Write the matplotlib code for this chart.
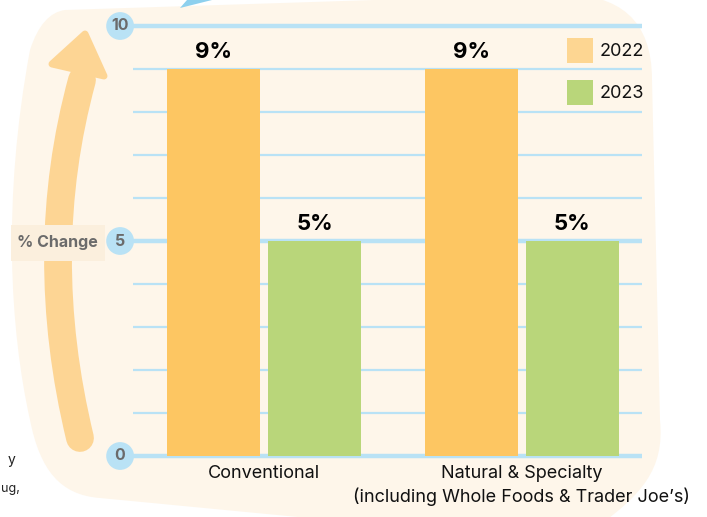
import matplotlib
matplotlib.use("Agg")
import matplotlib.pyplot as plt
import numpy as np
from matplotlib.path import Path
from matplotlib.patches import PathPatch, Polygon, Rectangle

plt.rcParams['font.family'] = ['Inter', 'DejaVu Sans']

# data
categories = ["Conventional", "Natural & Specialty\n(including Whole Foods & Trader Joe\u2019s)"]
years = ["2022", "2023"]
vals_2022 = [9, 9]
vals_2023 = [5, 5]
major_ticks = [0, 5, 10]
minor_ticks = [1, 2, 3, 4, 6, 7, 8, 9, 10]

W, H = 707, 517
bg = "#FEF6EA"
blue = "#B9E2F5"
c22 = "#FDC662"
c23 = "#B9D67A"
c22_leg = "#FDD692"
arrow_c = "#FDD594"
gray = "#6B6B6B"

fig = plt.figure(figsize=(W / 100, H / 100), dpi=100)
fig.patch.set_facecolor("white")


def px(x, y):
    return (x / W, 1 - y / H)


# cream background blob
M, L, C = Path.MOVETO, Path.LINETO, Path.CURVE4
pts = [
    ((65, 10), M),
    ((560, -6), L),
    ((620, -6), C), ((652, 20), C), ((652, 80), C),
    ((660, 420), L),
    ((665, 470), C), ((640, 495), C), ((600, 525), C),
    ((350, 522), L),
    ((100, 498), L),
    ((60, 495), C), ((40, 470), C), ((30, 420), C),
    ((10, 330), C), ((2, 200), C), ((30, 50), C),
    ((38, 25), C), ((50, 12), C), ((65, 10), C),
]
verts = [px(*p) for p, _ in pts]
codes = [c for _, c in pts]
fig.patches.append(PathPatch(Path(verts, codes), facecolor=bg, edgecolor="none",
                             transform=fig.transFigure, zorder=-3))

# blue fragment at top
fig.patches.append(Polygon([px(180, 8), px(187, 0), px(212, 0)], closed=True,
                           facecolor="#8DD0EE", edgecolor="none",
                           transform=fig.transFigure, zorder=-2))

# big curved arrow
shaft = Path([px(80, 438), px(35, 252), px(82, 80)], [Path.MOVETO, Path.CURVE3, Path.CURVE3])
fig.patches.append(PathPatch(shaft, facecolor="none", edgecolor=arrow_c, lw=20,
                             capstyle="round", transform=fig.transFigure, zorder=-2))
fig.patches.append(Polygon([px(85, 34), px(52, 64), px(104, 76)], closed=True,
                           facecolor=arrow_c, edgecolor=arrow_c, lw=5, joinstyle="round",
                           transform=fig.transFigure, zorder=-2))

# "% Change" label
fig.patches.append(Rectangle(px(11, 261), 94 / W, 36 / H, facecolor="#FBEFDD",
                             edgecolor="none", transform=fig.transFigure, zorder=-1))
fig.text(*px(57, 243), "% Change", ha="center", va="center", fontsize=11.5,
         fontweight="bold", color=gray, zorder=3)

# cut-off text fragments on the left
fig.text(*px(8, 460), "y", ha="left", va="center", fontsize=10, color="#222222")
fig.text(*px(1, 489), "ug,", ha="left", va="center", fontsize=9, color="#222222")

# axes
ax = fig.add_axes([133 / W, (H - 456) / H, 509 / W, 430 / H])
ax.set_zorder(2)
ax.set_facecolor("none")
x = np.arange(len(categories))
ax.set_xlim(-0.508, 1.466)
ax.set_ylim(0, 10)

for t in minor_ticks:
    ax.axhline(t, color=blue, lw=1.6, zorder=1)
for t in major_ticks:
    ax.plot([-0.56, 1.466], [t, t], color=blue, lw=3.2, zorder=1,
            clip_on=False, solid_capstyle="butt")
ax.scatter([-0.558] * len(major_ticks), major_ticks, s=400, color=blue,
           zorder=3, clip_on=False, edgecolors="none")
for t in major_ticks:
    ax.text(-0.558, t, str(t), ha="center", va="center", fontsize=11.5,
            fontweight="bold", color=gray, zorder=4)

off, w = 0.196, 0.36
b1 = ax.bar(x - off, vals_2022, w, color=c22, zorder=2, label=years[0])
b2 = ax.bar(x + off, vals_2023, w, color=c23, zorder=2, label=years[1])
for bars in (b1, b2):
    for b in bars:
        ax.text(b.get_x() + b.get_width() / 2, b.get_height() + 0.17,
                f"{int(b.get_height())}%", ha="center", va="bottom",
                fontsize=16, fontweight="bold", color="black")

for xi, lab in zip(x, categories):
    ax.text(xi, -0.22, lab, ha="center", va="top", fontsize=13, color="#111111",
            linespacing=1.35)

# legend (manual squares)
for i, (yr, col) in enumerate(zip(years, [c22_leg, c23])):
    ypx = 38 + i * 42
    fig.patches.append(Rectangle(px(567, ypx + 25), 26 / W, 25 / H, facecolor=col,
                                 edgecolor="none", transform=fig.transFigure, zorder=3))
    fig.text(*px(600, ypx + 13), yr, ha="left", va="center", fontsize=13,
             color="#111111")

for s in ax.spines.values():
    s.set_visible(False)
ax.set_xticks([])
ax.set_yticks([])

fig.savefig("out.png", dpi=100)
